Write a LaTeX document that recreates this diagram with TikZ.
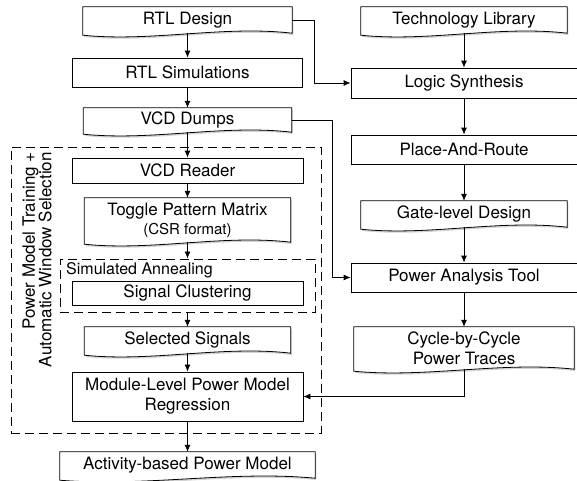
\documentclass[tikz,border=0pt]{standalone}
\usepackage{fontspec}
\setmainfont{TeX Gyre Heros}
\usetikzlibrary{arrows.meta,shadows,calc,backgrounds}
\begin{document}
\begin{tikzpicture}[x=1pt,y=-1pt,
  font=\fontsize{17}{20}\selectfont,
  box/.style={draw, line width=0.8pt, fill=white, inner sep=0pt, align=center},
  doc/.style={inner sep=0pt, align=center},
  docpath/.style={draw, line width=0.8pt, fill=white,
    drop shadow={opacity=0.35, shadow xshift=1.2pt, shadow yshift=-1.8pt}},
  arr/.style={-{Latex[length=7pt,width=6pt]}, line width=0.8pt},
  grp/.style={draw, dash pattern=on 9pt off 5pt, line width=0.9pt, inner sep=0pt}
]
\useasboundingbox (0,0) rectangle (577,480);

% group boxes
\node[grp, minimum width=310, minimum height=286] (outer) at (166,290) {};
\node[grp, minimum width=255, minimum height=53] (sa) at (187.5,285.5) {};
\node[anchor=north west, inner sep=0pt, font=\fontsize{16}{18}\selectfont] (salbl) at (66,262) {Simulated Annealing};
\node[rotate=90, anchor=east, align=right, inner sep=0pt, font=\fontsize{17}{16.5}\selectfont] (lbl) at (37,152) {Power Model Training +\\Automatic Window Selection};

% left column
\node[doc, minimum width=209, minimum height=26] (rtl) at (187.5,20) {RTL Design};
\node[box, minimum width=230, minimum height=29] (rsim) at (187.5,72.5) {RTL Simulations};
\node[doc, minimum width=208, minimum height=24] (vcd) at (187.5,120) {VCD Dumps};
\node[box, minimum width=231, minimum height=25] (vcdr) at (187.5,170.5) {VCD Reader};
\node[doc, minimum width=206, minimum height=44] (tpm) at (187.5,220) {Toggle Pattern Matrix\\[-1pt]{\fontsize{15}{17}\selectfont (CSR format)}};
\node[box, minimum width=231, minimum height=24] (sc) at (187.5,293) {Signal Clustering};
\node[doc, minimum width=206, minimum height=26] (sel) at (187.5,340) {Selected Signals};
\node[box, minimum width=231, minimum height=49] (mod) at (187.5,396.5) {Module-Level Power Model\\Regression};
\node[doc, minimum width=255, minimum height=26] (act) at (187.5,465) {Activity-based Power Model};

% right column
\node[doc, minimum width=206, minimum height=26] (tech) at (464,20) {Technology Library};
\node[box, minimum width=226, minimum height=30] (logic) at (464,83) {Logic Synthesis};
\node[box, minimum width=226, minimum height=29] (par) at (464,149.5) {Place-And-Route};
\node[doc, minimum width=206, minimum height=26] (gate) at (464,214) {Gate-level Design};
\node[box, minimum width=226, minimum height=29] (pat) at (464,277.5) {Power Analysis Tool};
\node[doc, minimum width=220, minimum height=42] (cyc) at (464,348) {Cycle-by-Cycle\\Power Traces};

% document shapes
\begin{pgfonlayer}{background}
\foreach \n in {rtl,vcd,tpm,sel,act,tech,gate,cyc}{
  \path[docpath] (\n.north west) -- (\n.north east) -- (\n.south east)
    .. controls ($(\n.south east)!0.33!(\n.south west)+(0,-8)$)
       and ($(\n.south east)!0.67!(\n.south west)+(0,9)$)
    .. ($(\n.south west)+(0,2)$) -- cycle;
}
\end{pgfonlayer}

% connectors
\draw[arr] (rtl) -- (rsim);
\draw[arr] (rsim) -- (vcd);
\draw[arr] (vcd) -- (vcdr);
\draw[arr] (vcdr) -- (tpm);
\draw[arr] (tpm) -- (sa.north);
\draw[arr] (sa.south) -- (sel);
\draw[arr] (sel) -- (mod);
\draw[arr] (mod) -- (act);
\draw[arr] (tech) -- (logic);
\draw[arr] (logic) -- (par);
\draw[arr] (par) -- (gate);
\draw[arr] (gate) -- (pat);
\draw[arr] (pat) -- (cyc);
\draw[arr] (rtl.east) -- ++(22,0) |- (logic.west);
\draw[arr] (vcd.east) -- ++(41,0) |- (pat.west);
\draw[arr] (cyc.south) |- (mod.east);
\end{tikzpicture}
\end{document}
